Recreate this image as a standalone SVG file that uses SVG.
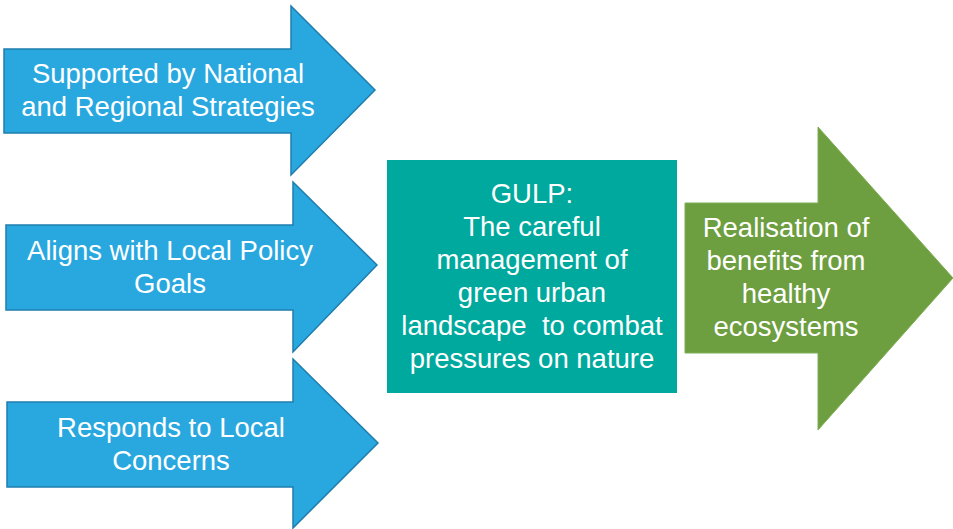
<svg xmlns="http://www.w3.org/2000/svg" width="953" height="529" viewBox="0 0 953 529">
<style>
.blue{fill:#29A8E0;stroke:#1E7DAD;stroke-width:1.5;stroke-linejoin:miter}
.teal{fill:#00A99D}
.green{fill:#6D9E3F;stroke:#7FAE55;stroke-width:1}
text{font-family:"Liberation Sans",Arial,sans-serif;font-size:27.5px;fill:#FFFFFF;text-anchor:middle}
</style>
<rect width="953" height="529" fill="#FFFFFF"/>
<g id="node-national">
<path class="blue" d="M4,49 H291 V6 L375,90 L291,175 V133 H4 Z"/>
<text x="168" y="83">Supported by National</text>
<text x="168" y="116">and Regional Strategies</text>
</g>
<g id="node-local-policy">
<path class="blue" d="M6,225 H293 V182 L377,265 L293,352 V310 H6 Z"/>
<text x="170" y="260">Aligns with Local Policy</text>
<text x="170" y="293">Goals</text>
</g>
<g id="node-local-concerns">
<path class="blue" d="M7,402 H293 V359 L378,443 L293,528 V487 H7 Z"/>
<text x="171" y="437">Responds to Local</text>
<text x="171" y="470">Concerns</text>
</g>
<g id="node-gulp">
<rect class="teal" x="387" y="160" width="290" height="233"/>
<text x="532" y="203">GULP:</text>
<text x="532" y="236">The careful</text>
<text x="532" y="269">management of</text>
<text x="532" y="302">green urban</text>
<text x="532" y="335" xml:space="preserve">landscape  to combat</text>
<text x="532" y="368">pressures on nature</text>
</g>
<g id="node-benefits">
<path class="green" d="M685,203 H818 V127 L953,278 L818,430 V353 H685 Z"/>
<text x="786" y="237">Realisation of</text>
<text x="786" y="270">benefits from</text>
<text x="786" y="303">healthy</text>
<text x="786" y="336">ecosystems</text>
</g>
<g id="connectors"></g>
</svg>
